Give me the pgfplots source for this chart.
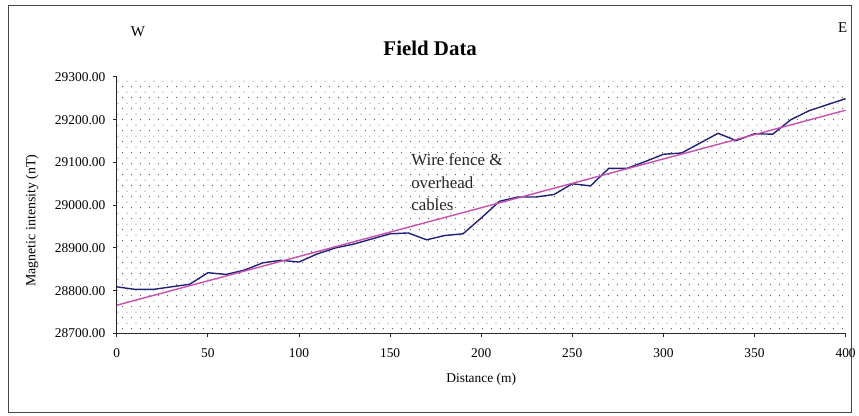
\documentclass[border=0pt]{standalone}
\usepackage{pgfplots}
\pgfplotsset{compat=1.18}
\usepackage{fontspec}
\setmainfont{Liberation Serif}
\usetikzlibrary{patterns}
\definecolor{dataline}{RGB}{32,32,120}
\definecolor{trendline}{RGB}{200,80,175}
\definecolor{framegray}{RGB}{70,70,70}
\pgfdeclarepatternformonly{exceldots}{\pgfpointorigin}{\pgfpoint{9bp}{11.4bp}}{\pgfpoint{9bp}{11.4bp}}{%
  \pgfpathcircle{\pgfpoint{2bp}{2bp}}{0.55bp}%
  \pgfpathcircle{\pgfpoint{6.5bp}{7.7bp}}{0.55bp}%
  \pgfusepath{fill}}
\begin{document}
\begin{tikzpicture}
\begin{axis}[
  scale only axis,
  width=730bp, height=257bp,
  xmin=0, xmax=400, ymin=28700, ymax=29300,
  xtick={0,50,...,400},
  ytick={28700,28800,...,29300},
  scaled y ticks=false,
  scaled x ticks=false,
  axis lines*=left,
  axis line style={black!85, line width=0.9bp},
  tick style={black!85, line width=0.9bp},
  tick align=outside,
  major tick length=4bp,
  clip=false,
  axis background/.style={pattern=exceldots, pattern color=black!75},
  /pgf/number format/assume math mode=true,
  yticklabel style={/pgf/number format/fixed, /pgf/number format/fixed zerofill, /pgf/number format/precision=2, /pgf/number format/1000 sep={}, xshift=-4bp},
  xticklabel style={/pgf/number format/fixed, /pgf/number format/1000 sep={}, yshift=-8bp},
  ticklabel style={font=\fontsize{13.5}{16}\selectfont},
  xlabel={Distance (m)},
  ylabel={Magnetic intensity (nT)},
  every axis x label/.style={at={(rel axis cs:0.5,-0.178)}, anchor=center, font=\fontsize{13.5}{16}\selectfont},
  every axis y label/.style={at={(rel axis cs:-0.1164,0.44)}, anchor=center, rotate=90, font=\fontsize{14}{16}\selectfont},
]
% outer frame and page size
\path (rel axis cs:-0.1603,-0.3191) rectangle (rel axis cs:1.0164,1.2996);
\draw[framegray, line width=1bp] (rel axis cs:-0.1493,-0.309) rectangle (rel axis cs:1.0082,1.280);
\addplot[dataline, line width=1.4bp] coordinates {
(0,28809) (10,28803) (20,28803) (30,28809) (40,28815) (50,28842) (60,28838)
(70,28848) (80,28865) (90,28871) (100,28867) (110,28886) (120,28900) (130,28909)
(140,28921) (150,28933) (160,28935) (170,28919) (180,28929) (190,28933) (200,28970)
(210,29009) (220,29019) (230,29019) (240,29025) (250,29050) (260,29045) (270,29086)
(280,29086) (290,29102) (300,29119) (310,29122) (320,29145) (330,29168) (340,29151)
(350,29167) (360,29166) (370,29200) (380,29221) (390,29235) (400,29249)
};
\addplot[trendline, line width=1.4bp] coordinates {(0,28766) (400,29222)};
\node[font=\bfseries\fontsize{21}{24}\selectfont] at (rel axis cs:0.430,1.113) {Field Data};
\node[font=\fontsize{15}{18}\selectfont] at (rel axis cs:0.0288,1.175) {W};
\node[font=\fontsize{15}{18}\selectfont] at (rel axis cs:0.996,1.191) {E};
\node[font=\fontsize{17}{22.5}\selectfont, align=left, anchor=west, inner sep=0pt, text=black!85] at (axis cs:161.5,29053) {Wire fence \&\\overhead\\cables};
\end{axis}
\end{tikzpicture}
\end{document}
